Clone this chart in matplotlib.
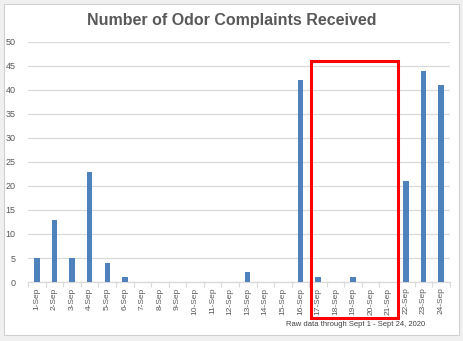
import numpy as np
import matplotlib
matplotlib.use('Agg')
import matplotlib.pyplot as plt
import matplotlib.patches as mpatches

days = ['%d-Sep' % d for d in range(1, 25)]
complaints = [5, 13, 5, 23, 4, 1, 0, 0, 0, 0, 0, 0,
              2, 0, 0, 42, 1, 0, 1, 0, 0, 21, 44, 41]

# days with no reports called out by the red box
box_first, box_last = 16, 20

plt.rcParams['font.family'] = ['Liberation Sans', 'DejaVu Sans']
grey = '#595959'

fig = plt.figure(figsize=(4.64, 3.41), dpi=100)
fig.patch.set_facecolor('#f0f0f0')
fig.patches.append(mpatches.Rectangle((4/464, 6/341), 455/464, 331/341,
                                      transform=fig.transFigure, facecolor='white',
                                      edgecolor='#d0d0d0', linewidth=0.8, zorder=-10))

ax = fig.add_axes([28.2/464, 59/341, 421.5/464, 240/341])
ax.set_facecolor('none')
x = np.arange(len(days))
ax.bar(x, complaints, width=0.31, color='#4f81bd', zorder=3)

ax.set_xlim(-0.5, len(days) - 0.5)
ax.set_ylim(0, 50)
ax.set_yticks(range(0, 51, 5))
ax.grid(axis='y', color='#d9d9d9', linewidth=0.9, zorder=0)
for s in ['top', 'right', 'left']:
    ax.spines[s].set_visible(False)
ax.spines['bottom'].set_color('#d9d9d9')
ax.spines['bottom'].set_linewidth(0.9)

ax.set_xticks(x)
ax.set_xticklabels(days, rotation=90, fontsize=6, color=grey)
ax.set_xticks(np.arange(-0.5, len(days)), minor=True)
ax.tick_params(axis='x', which='major', length=0, pad=4)
ax.tick_params(axis='x', which='minor', length=3.5, color='#d9d9d9', width=0.8)
ax.tick_params(axis='y', length=0, labelsize=6.5, labelcolor=grey, pad=9)

ax.add_patch(mpatches.Rectangle((box_first - 0.4, -7.5), box_last - box_first + 0.93, 53.5,
                                fill=False, edgecolor='red', linewidth=2.2,
                                clip_on=False, zorder=5))

fig.text(0.5, 0.94, 'Number of Odor Complaints Received', ha='center', va='center',
         fontsize=11.5, fontweight='bold', color=grey)
fig.text(356/464, 1 - 325/341, 'Raw data through Sept 1 - Sept 24, 2020',
         ha='center', va='center', fontsize=5.5, color='#404040')

fig.savefig('out.png', dpi=100, facecolor=fig.get_facecolor())
